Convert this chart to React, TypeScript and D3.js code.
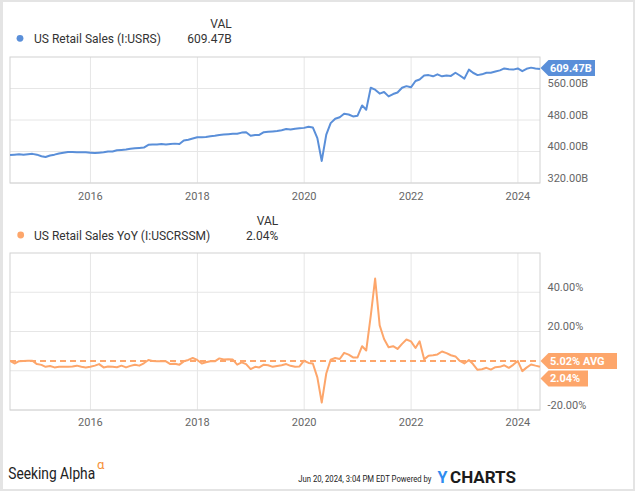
import React, { useEffect } from 'react';
import * as d3 from 'd3';

// ---------- data ----------
const START_MONTH = '2014-06';
const SALES_B = [
  391, 392, 393, 392, 393, 394, 392,
  388, 386, 390, 392, 395, 397, 399, 399, 398, 398, 398, 397,
  396, 397, 398, 400, 400, 403, 404, 405, 407, 408, 409, 410,
  417, 418, 418, 419, 418, 419, 420, 419, 428, 430, 433, 436,
  436, 437, 439, 440, 442, 443, 444, 445, 445, 448, 449, 440,
  442, 442, 449, 450, 451, 452, 454, 457, 456, 458, 459, 460,
  463, 461, 434, 376, 443, 472, 483, 487, 496, 494, 489, 491,
  517, 506, 562, 557, 547, 551, 540, 546, 550, 562, 566, 563,
  579, 583, 593, 594, 591, 596, 591, 593, 592, 600, 593, 585,
  608, 600, 594, 596, 600, 600, 603, 606, 611, 609, 608, 611,
  604, 610, 613, 611, 609.47,
];
const YOY_PCT = [
  5.0, 3.7, 4.9, 5.0, 5.1, 5.1, 3.4,
  3.0, 2.0, 2.4, 1.7, 2.0, 2.1, 2.0, 2.2, 2.6, 2.0, 1.7, 2.0,
  2.6, 3.4, 1.7, 2.2, 2.0, 1.8, 2.6, 1.7, 2.5, 3.1, 2.6, 3.8,
  5.5, 5.0, 4.8, 4.9, 4.8, 3.4, 3.6, 3.1, 4.8, 5.5, 6.5, 5.5,
  3.7, 4.3, 4.8, 4.8, 6.3, 5.7, 5.8, 5.7, 3.1, 4.3, 3.4, 0.85,
  2.0, 1.7, 3.1, 2.8, 2.0, 2.4, 2.8, 3.4, 2.5, 2.0, 2.2, 5.1,
  4.0, 3.7, -3.4, -16.2, -1.4, 5.6, 6.5, 6.0, 9.1, 8.2, 6.8, 6.8,
  12.5, 10.3, 28, 47, 23.1, 16.2, 12, 12.5, 11.1, 13.7, 15.9, 15,
  11.6, 15.0, 5.8, 7.7, 7.9, 8.3, 9.8, 9.0, 7.9, 7.3, 5.0, 3.7,
  5.5, 3.4, 0.5, 0.8, 1.5, 0.6, 1.8, 2.0, 2.8, 1.5, 3.0, 5.0,
  -0.2, 1.6, 3.2, 2.6, 2.04,
];
const LAST_SALES = 609.47;
const LAST_YOY = 2.04;
const AVG_YOY = 5.02;
const YEAR_TICKS = [2016, 2018, 2020, 2022, 2024];
const SALES_TICKS = [320, 400, 480, 560];
const SALES_DOMAIN = [320, 640];
const YOY_TICKS = [-20, 0, 20, 40];
const YOY_LABELED = [-20, 20, 40];
const YOY_DOMAIN = [-20, 60];
const SERIES_1 = 'US Retail Sales (I:USRS)';
const SERIES_2 = 'US Retail Sales YoY (I:USCRSSM)';
const FOOT_DATE = 'Jun 20, 2024, 3:04 PM EDT Powered by';

// ---------- style ----------
const BLUE = '#5a8fd9';
const ORANGE = '#fda66b';
const GRID = '#e6e6e6';
const BORDER = '#d2d2d2';
const AXIS_TXT = '#666';
const FONT = 'Roboto, "Noto Sans", sans-serif';

export default function App() {
  useEffect(() => {
    document.body.style.margin = '0';
  }, []);

  const start = d3.utcParse('%Y-%m')(START_MONTH) as Date;
  const dates = SALES_B.map((_, i) => d3.utcDay.offset(d3.utcMonth.offset(start, i + 1), -1));

  const X0 = 10, X1 = 540;
  const x = d3.scaleUtc().domain([dates[0], dates[dates.length - 1]]).range([X0, X1]);

  const T0 = 57, T1 = 183;
  const yS = d3.scaleLinear().domain(SALES_DOMAIN).range([T1, T0]);
  const B0 = 253, B1 = 410;
  const yY = d3.scaleLinear().domain(YOY_DOMAIN).range([B1, B0]);

  const salesLine = d3.line<number>().x((_, i) => x(dates[i])).y((d) => yS(d));
  const yoyLine = d3.line<number>().x((_, i) => x(dates[i])).y((d) => yY(d));

  const yearX = (yr: number) => x(new Date(Date.UTC(yr, 0, 1)));

  const flag = (tip: number, cy: number, right: number, h = 16) =>
    `M${tip},${cy} L${tip + 8},${cy - h / 2} L${right},${cy - h / 2} L${right},${cy + h / 2} L${tip + 8},${cy + h / 2} Z`;

  const salesCy = yS(LAST_SALES) - 1;
  const avgCy = yY(AVG_YOY);
  const lastCy = avgCy + 17.5;

  const fmtB = (v: number) => `${v.toFixed(2)}B`;
  const fmtP = (v: number) => `${v.toFixed(2)}%`;

  const xGrid = (top: number, bottom: number, labelY: number) =>
    YEAR_TICKS.map((yr) => (
      <g key={yr}>
        <line x1={yearX(yr)} x2={yearX(yr)} y1={top} y2={bottom} stroke={GRID} strokeWidth={1} />
        <text x={yearX(yr)} y={labelY} textAnchor="middle" fontSize={11} fill={AXIS_TXT}>{yr}</text>
      </g>
    ));

  return (
    <svg width={635} height={491} style={{ position: 'absolute', left: 0, top: 0, background: '#fff' }} fontFamily={FONT}>
      <defs>
        <clipPath id="clipTop"><rect x={X0} y={T0} width={X1 - X0 + 1} height={T1 - T0} /></clipPath>
        <clipPath id="clipBot"><rect x={X0} y={B0} width={X1 - X0 + 1} height={B1 - B0} /></clipPath>
      </defs>
      <rect x={0} y={0} width={635} height={491} fill="#fff" />
      <rect x={1} y={1} width={633} height={489} fill="none" stroke="#e4e4e4" strokeWidth={2} />
      <rect x={0} y={0} width={3} height={491} fill="#e4e4e4" />

      {/* ---- legend top ---- */}
      <text x={231.7} y={27.5} textAnchor="end" fontSize={12} fill="#333">VAL</text>
      <circle cx={20} cy={38.3} r={3.4} fill={BLUE} />
      <text x={34} y={43} fontSize={12} fill="#333">{SERIES_1}</text>
      <text x={231.7} y={43} textAnchor="end" fontSize={12} fill="#333">{fmtB(LAST_SALES)}</text>

      {/* ---- top chart ---- */}
      {SALES_TICKS.map((t) => (
        <g key={t}>
          <line x1={X0} x2={X1} y1={yS(t)} y2={yS(t)} stroke={GRID} strokeWidth={1} />
          <text x={547.5} y={yS(t) - 1.5} fontSize={11} fill={AXIS_TXT}>{fmtB(t)}</text>
        </g>
      ))}
      {xGrid(T0, T1, 200)}
      <rect x={X0} y={T0} width={X1 - X0} height={T1 - T0} fill="none" stroke={BORDER} strokeWidth={1} />
      <path d={salesLine(SALES_B) || ''} fill="none" stroke={BLUE} strokeWidth={2} strokeLinejoin="round" clipPath="url(#clipTop)" />
      <path d={flag(540.5, salesCy, 595)} fill={BLUE} />
      <text x={550} y={salesCy + 4} fontSize={11} fontWeight="bold" fill="#fff">{fmtB(LAST_SALES)}</text>

      {/* ---- legend bottom ---- */}
      <text x={278.3} y={225} textAnchor="end" fontSize={12} fill="#333">VAL</text>
      <circle cx={20.7} cy={235} r={3.4} fill={ORANGE} />
      <text x={34} y={239.5} fontSize={12} fill="#333">{SERIES_2}</text>
      <text x={278.3} y={239.5} textAnchor="end" fontSize={12} fill="#333">{fmtP(LAST_YOY)}</text>

      {/* ---- bottom chart ---- */}
      {YOY_TICKS.map((t) => (
        <g key={t}>
          <line x1={X0} x2={X1} y1={yY(t)} y2={yY(t)} stroke={GRID} strokeWidth={1} />
          {YOY_LABELED.includes(t) && (
            <text x={547.5} y={yY(t) - 1.5} fontSize={11} fill={AXIS_TXT}>{fmtP(t)}</text>
          )}
        </g>
      ))}
      {xGrid(B0, B1, 426)}
      <rect x={X0} y={B0} width={X1 - X0} height={B1 - B0} fill="none" stroke={BORDER} strokeWidth={1} />
      <line x1={X0} x2={X1} y1={yY(AVG_YOY)} y2={yY(AVG_YOY)} stroke={ORANGE} strokeWidth={2} strokeDasharray="6,4" />
      <path d={yoyLine(YOY_PCT) || ''} fill="none" stroke={ORANGE} strokeWidth={2} strokeLinejoin="round" clipPath="url(#clipBot)" />
      <path d={flag(540.5, avgCy, 617)} fill={ORANGE} />
      <text x={550} y={avgCy + 4} fontSize={11} fontWeight="bold" fill="#fff">{`${AVG_YOY.toFixed(2)}% AVG`}</text>
      <path d={flag(540.5, lastCy, 588)} fill={ORANGE} />
      <text x={550} y={lastCy + 4} fontSize={11} fontWeight="bold" fill="#fff">{fmtP(LAST_YOY)}</text>

      {/* ---- footer ---- */}
      <g transform="translate(8.3,479) scale(0.86,1)">
        <text x={0} y={0} fontSize={16} fill="#222">Seeking Alpha</text>
      </g>
      <text x={97} y={469} fontSize={13} fill="#f7913a">α</text>
      <g transform="translate(298.3,481.7) scale(0.82,1)">
        <text x={0} y={0} fontSize={9.4} fill="#222">{FOOT_DATE}</text>
      </g>
      <text x={437.5} y={483.3} fontSize={16} fontWeight="bold" fill="#2f8cf0">Y</text>
      <text x={450} y={483.3} fontSize={16} fontWeight="bold" fill="#1b1b1b" textLength={66} lengthAdjust="spacingAndGlyphs">CHARTS</text>
    </svg>
  );
}
